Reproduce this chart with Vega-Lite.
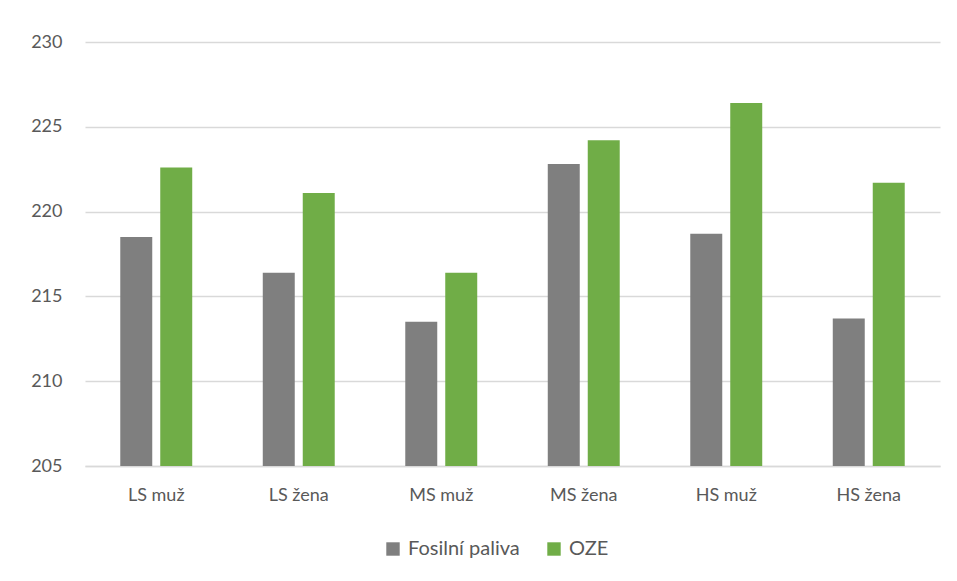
{
  "$schema": "https://vega.github.io/schema/vega-lite/v6.json",
  "autosize": "none",
  "width": 855,
  "height": 424,
  "padding": {"left": 85, "top": 42, "right": 17, "bottom": 115},
  "background": "white",
  "config": {
    "view": {"stroke": null},
    "font": "Lato",
    "axis": {"labelFont": "Lato", "labelColor": "#595959", "labelFontSize": 18},
    "legend": {"labelFont": "Lato", "labelColor": "#595959", "labelFontSize": 20}
  },
  "data": {
    "values": [
      {"skupina": "LS muž", "zdroj": "Fosilní paliva", "hodnota": 218.5},
      {"skupina": "LS muž", "zdroj": "OZE", "hodnota": 222.6},
      {"skupina": "LS žena", "zdroj": "Fosilní paliva", "hodnota": 216.4},
      {"skupina": "LS žena", "zdroj": "OZE", "hodnota": 221.1},
      {"skupina": "MS muž", "zdroj": "Fosilní paliva", "hodnota": 213.5},
      {"skupina": "MS muž", "zdroj": "OZE", "hodnota": 216.4},
      {"skupina": "MS žena", "zdroj": "Fosilní paliva", "hodnota": 222.8},
      {"skupina": "MS žena", "zdroj": "OZE", "hodnota": 224.2},
      {"skupina": "HS muž", "zdroj": "Fosilní paliva", "hodnota": 218.7},
      {"skupina": "HS muž", "zdroj": "OZE", "hodnota": 226.4},
      {"skupina": "HS žena", "zdroj": "Fosilní paliva", "hodnota": 213.7},
      {"skupina": "HS žena", "zdroj": "OZE", "hodnota": 221.7}
    ]
  },
  "mark": {"type": "bar", "clip": true},
  "encoding": {
    "x": {
      "field": "skupina",
      "type": "nominal",
      "sort": null,
      "scale": {"paddingInner": 0.495, "paddingOuter": 0.2475},
      "axis": {
        "title": null,
        "labelAngle": 0,
        "ticks": false,
        "domainColor": "#d9d9d9",
        "domainWidth": 1.5,
        "labelPadding": 20
      }
    },
    "xOffset": {
      "field": "zdroj",
      "type": "nominal",
      "scale": {"paddingInner": 0.2, "paddingOuter": 0}
    },
    "y": {
      "field": "hodnota",
      "type": "quantitative",
      "scale": {"domain": [205, 230], "zero": false, "nice": false},
      "axis": {
        "title": null,
        "values": [205, 210, 215, 220, 225, 230],
        "domain": false,
        "ticks": false,
        "gridColor": "#d9d9d9",
        "gridWidth": 1.5,
        "labelPadding": 23
      }
    },
    "color": {
      "field": "zdroj",
      "type": "nominal",
      "scale": {"domain": ["Fosilní paliva", "OZE"], "range": ["#7f7f7f", "#70ad47"]},
      "legend": {
        "title": null,
        "orient": "none",
        "direction": "horizontal",
        "legendX": 298,
        "legendY": 497,
        "symbolType": "square",
        "symbolSize": 180,
        "symbolStrokeWidth": 0,
        "columnPadding": 24,
        "labelOffset": 5
      }
    }
  }
}
